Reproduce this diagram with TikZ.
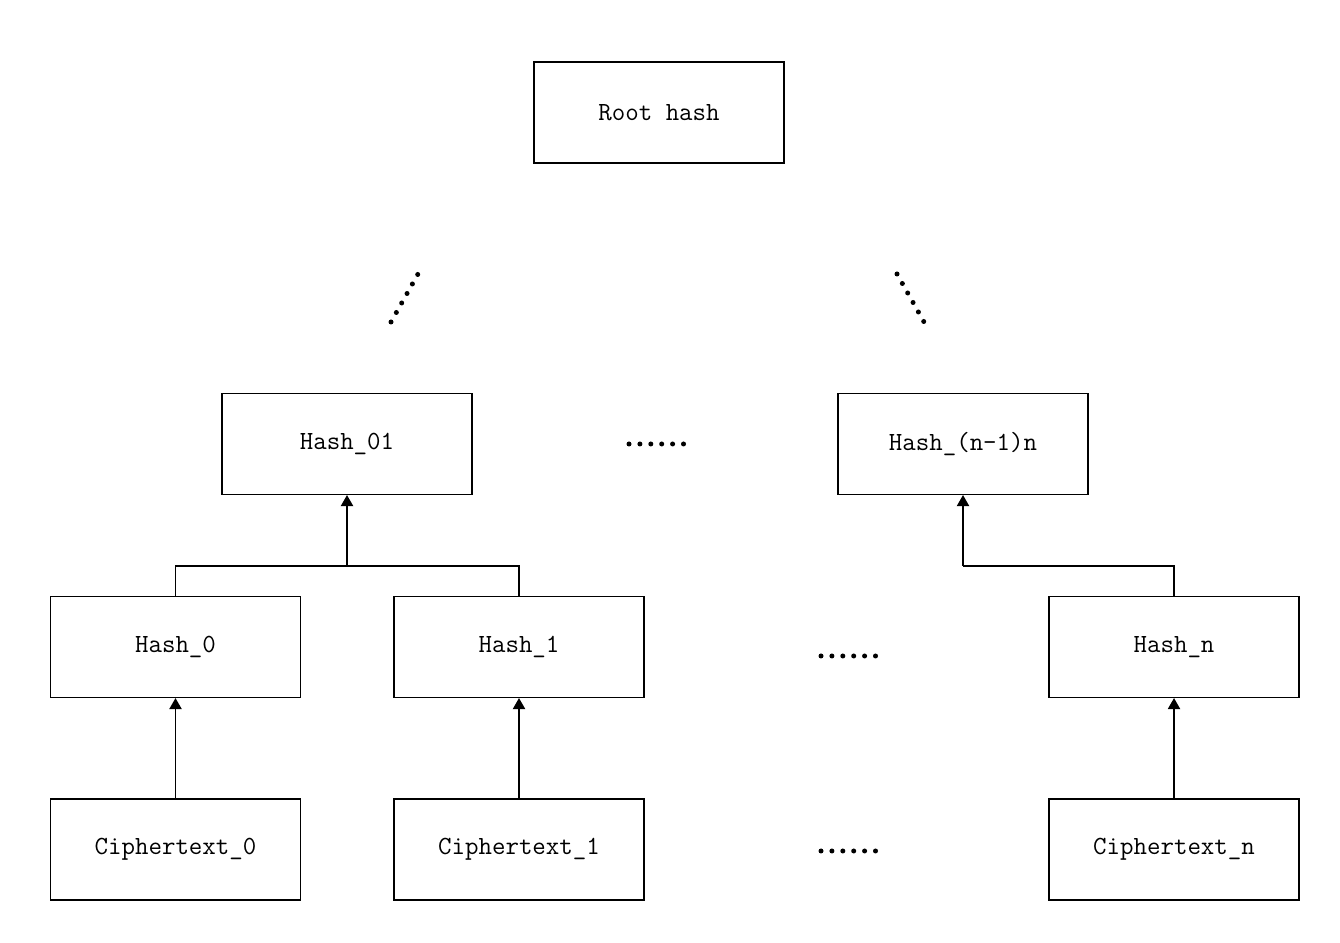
\documentclass[tikz,border=0pt]{standalone}
\usetikzlibrary{arrows.meta}

\begin{document}
\begin{tikzpicture}
  % Styles
  \tikzset{
    hashBox/.style={draw, line width=0.6pt, minimum width=5cm, minimum height=2.02cm,
      inner sep=0pt, font=\fontsize{14.9}{18}\selectfont\ttfamily},
    link/.style={line width=1.1pt},
    upArrow/.style={link, -{Triangle[width=0.24cm,length=0.22cm]}},
    dotRow/.style={line width=0.1cm, line cap=round, dash pattern=on 0pt off 0.218cm}
  }

  % Cadre
  \useasboundingbox (0,0) rectangle (26.8,18.86);

  % Racine
  \node[hashBox] (rootHash) at (13.18,16.61) {Root hash};

  % Niveau intermediaire
  \node[hashBox] (hash01) at (6.94,9.98) {Hash\_01};
  \node[hashBox] (hashN1N) at (19.26,9.98) {Hash\_(n-1)n};

  % Feuilles
  \node[hashBox] (hash0) at (3.51,5.92) {Hash\_0};
  \node[hashBox] (hash1) at (10.38,5.92) {Hash\_1};
  \node[hashBox] (hashN) at (23.48,5.92) {Hash\_n};

  % Donnees chiffrees
  \node[hashBox] (cipher0) at (3.51,1.87) {Ciphertext\_0};
  \node[hashBox] (cipher1) at (10.38,1.87) {Ciphertext\_1};
  \node[hashBox] (cipherN) at (23.48,1.87) {Ciphertext\_n};

  % Fleches vers les feuilles
  \foreach \src/\dst in {cipher0/hash0, cipher1/hash1, cipherN/hashN}
    \draw[upArrow] (\src.north) -- (\dst.south);

  % Jonctions
  \coordinate (join01) at (6.94,7.54);
  \coordinate (joinN) at (19.26,7.54);
  \draw[link] (hash0.north) |- (join01) -| (hash1.north);
  \draw[upArrow] (join01) -- (hash01.south);
  \draw[link] (hashN.north) |- (joinN);
  \draw[upArrow] (joinN) -- (hashN1N.south);

  % Points de suspension
  \coordinate (dotsMidA) at (12.58,9.98);
  \coordinate (dotsMidB) at (13.68,9.98);
  \coordinate (dotsHashA) at (16.42,5.74);
  \coordinate (dotsHashB) at (17.52,5.74);
  \coordinate (dotsCipherA) at (16.42,1.84);
  \coordinate (dotsCipherB) at (17.52,1.84);
  \coordinate (diagLeftA) at (7.82,12.42);
  \coordinate (diagLeftB) at (8.36,13.38);
  \coordinate (diagRightA) at (17.94,13.38);
  \coordinate (diagRightB) at (18.48,12.42);
  \foreach \a/\b in {dotsMidA/dotsMidB, dotsHashA/dotsHashB, dotsCipherA/dotsCipherB,
                     diagLeftA/diagLeftB, diagRightA/diagRightB}
    \draw[dotRow] (\a) -- (\b);
\end{tikzpicture}
\end{document}
